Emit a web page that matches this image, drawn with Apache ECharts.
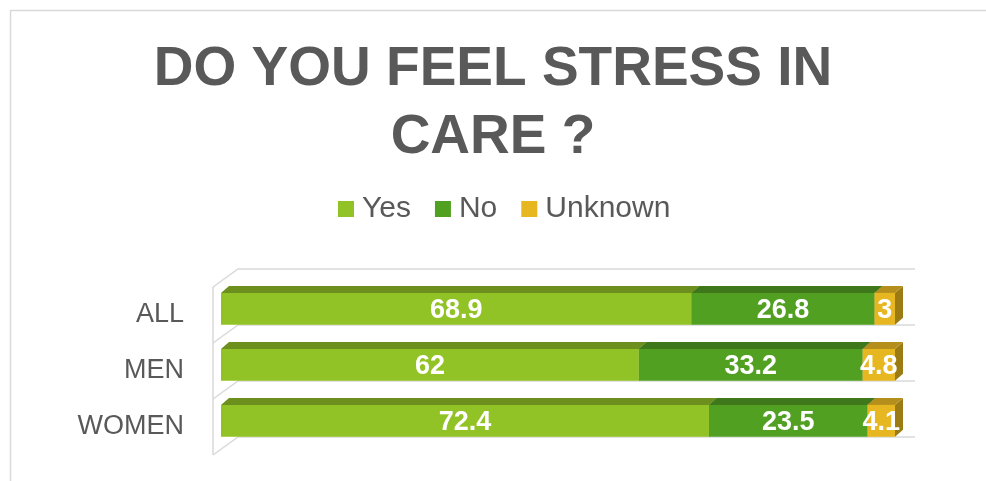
<!DOCTYPE html>
<html>
<head>
<meta charset="utf-8">
<script src="https://cdn.jsdelivr.net/npm/echarts@6/dist/echarts.min.js"></script>
<style>
  html, body { margin: 0; padding: 0; background: #fff; }
  #chart { width: 986px; height: 481px; }
</style>
</head>
<body>
<div id="chart"></div>
<script>
const categories = ["ALL", "MEN", "WOMEN"];
const seriesNames = ["Yes", "No", "Unknown"];
const yesValues = [68.9, 62, 72.4];
const noValues = [26.8, 33.2, 23.5];
const unknownValues = [3, 4.8, 4.1];

const palette = [
  { front: "#92c326", top: "#6c8f1e", side: "#5f7e1a" },
  { front: "#52a022", top: "#3e781a", side: "#346516" },
  { front: "#e6b720", top: "#b58f1c", side: "#9c7c12" },
];

const FONT = "'Liberation Sans', Arial, sans-serif";
const GRAY = "#595959";

// 100% stacked: each row is scaled to its own total
const rawSeries = [yesValues, noValues, unknownValues];
const totals = categories.map((_, i) =>
  rawSeries.reduce((s, arr) => s + arr[i], 0)
);
const stacked = rawSeries.map(() => []);
categories.forEach((_, i) => {
  let acc = 0;
  rawSeries.forEach((arr, k) => {
    const share = (arr[i] / totals[i]) * 100;
    stacked[k].push([acc, acc + share, i, arr[i]]);
    acc += share;
  });
});

const DX = 8, DY = 7;

function barItem(colors) {
  return (params, api) => {
    const a = api.coord([api.value(0), api.value(2)]);
    const b = api.coord([api.value(1), api.value(2)]);
    const band = api.size([0, 1])[1];
    const h = band * 0.57;
    const cy = a[1] - band * 0.11;
    const x0 = a[0], x1 = b[0];
    const top = cy - h / 2, bottom = cy + h / 2;
    return {
      type: "group",
      children: [
        {
          type: "polygon",
          shape: { points: [[x1, top], [x1 + DX, top - DY], [x1 + DX, bottom - DY], [x1, bottom]] },
          style: { fill: colors.side },
        },
        {
          type: "polygon",
          shape: { points: [[x0, top], [x0 + DX, top - DY], [x1 + DX, top - DY], [x1, top]] },
          style: { fill: colors.top },
        },
        {
          type: "rect",
          shape: { x: x0, y: top, width: x1 - x0, height: h },
          style: { fill: colors.front },
        },
        {
          type: "text",
          x: (x0 + x1) / 2,
          y: cy + 2,
          z2: 10,
          style: {
            text: String(api.value(3)),
            fill: "#fff",
            font: "bold 27px " + FONT,
            align: "center",
            verticalAlign: "middle",
          },
        },
      ],
    };
  };
}

function wallItem(params, api) {
  const i = api.value(0);
  const band = api.size([0, 1])[1];
  const c = api.coord([0, i]);
  const xEnd = api.coord([100, i])[0];
  const xl = c[0] - 8;
  const lines = [];
  const boundary = (yb) => ({
    type: "polyline",
    shape: { points: [[xl, yb], [xl + 25, yb - 18], [xEnd + 20, yb - 18]] },
    style: { stroke: "#d9d9d9", lineWidth: 1.5, fill: null },
  });
  lines.push(boundary(c[1] - band / 2));
  if (i === categories.length - 1) {
    lines.push(boundary(c[1] + band / 2));
  }
  if (i === 0) {
    lines.push({
      type: "line",
      shape: { x1: xl, y1: c[1] - band / 2, x2: xl, y2: c[1] - band / 2 + band * categories.length },
      style: { stroke: "#d9d9d9", lineWidth: 1.5 },
    });
  }
  return { type: "group", children: lines };
}

const chart = echarts.init(document.getElementById("chart"));

chart.setOption({
  animation: false,
  color: palette.map((p) => p.front),
  graphic: [
    {
      type: "rect",
      left: 8,
      top: 8,
      shape: { width: 1000, height: 500 },
      style: { fill: null, stroke: "#d9d9d9", lineWidth: 1.5 },
      silent: true,
    },
  ],
  title: {
    text: "DO YOU FEEL STRESS IN\nCARE ?",
    left: "center",
    top: 31,
    textStyle: {
      fontFamily: FONT,
      fontWeight: "bold",
      fontSize: 55,
      lineHeight: 68,
      color: GRAY,
    },
  },
  legend: {
    data: seriesNames,
    left: 333,
    top: 189,
    icon: "rect",
    itemWidth: 16,
    itemHeight: 16,
    itemGap: 24,
    textStyle: { fontFamily: FONT, fontSize: 30, color: GRAY, padding: [0, 0, 0, 3] },
  },
  grid: { left: 221, right: 91, top: 287, height: 168 },
  xAxis: { type: "value", min: 0, max: 100, show: false },
  yAxis: {
    type: "category",
    data: categories,
    inverse: true,
    axisLine: { show: false },
    axisTick: { show: false },
    splitLine: { show: false },
    axisLabel: { fontFamily: FONT, fontSize: 27, color: GRAY, margin: 37 },
  },
  series: [
    {
      type: "custom",
      name: "walls",
      silent: true,
      renderItem: wallItem,
      data: categories.map((_, i) => [i]),
      encode: { y: 0 },
      z: 1,
    },
  ].concat(
    seriesNames.map((name, k) => ({
      type: "custom",
      name: name,
      renderItem: barItem(palette[k]),
      itemStyle: { color: palette[k].front },
      data: stacked[k],
      encode: { x: [0, 1], y: 2 },
      z: 2 + k,
    }))
  ),
});

window.addEventListener("resize", () => chart.resize());
</script>
</body>
</html>
